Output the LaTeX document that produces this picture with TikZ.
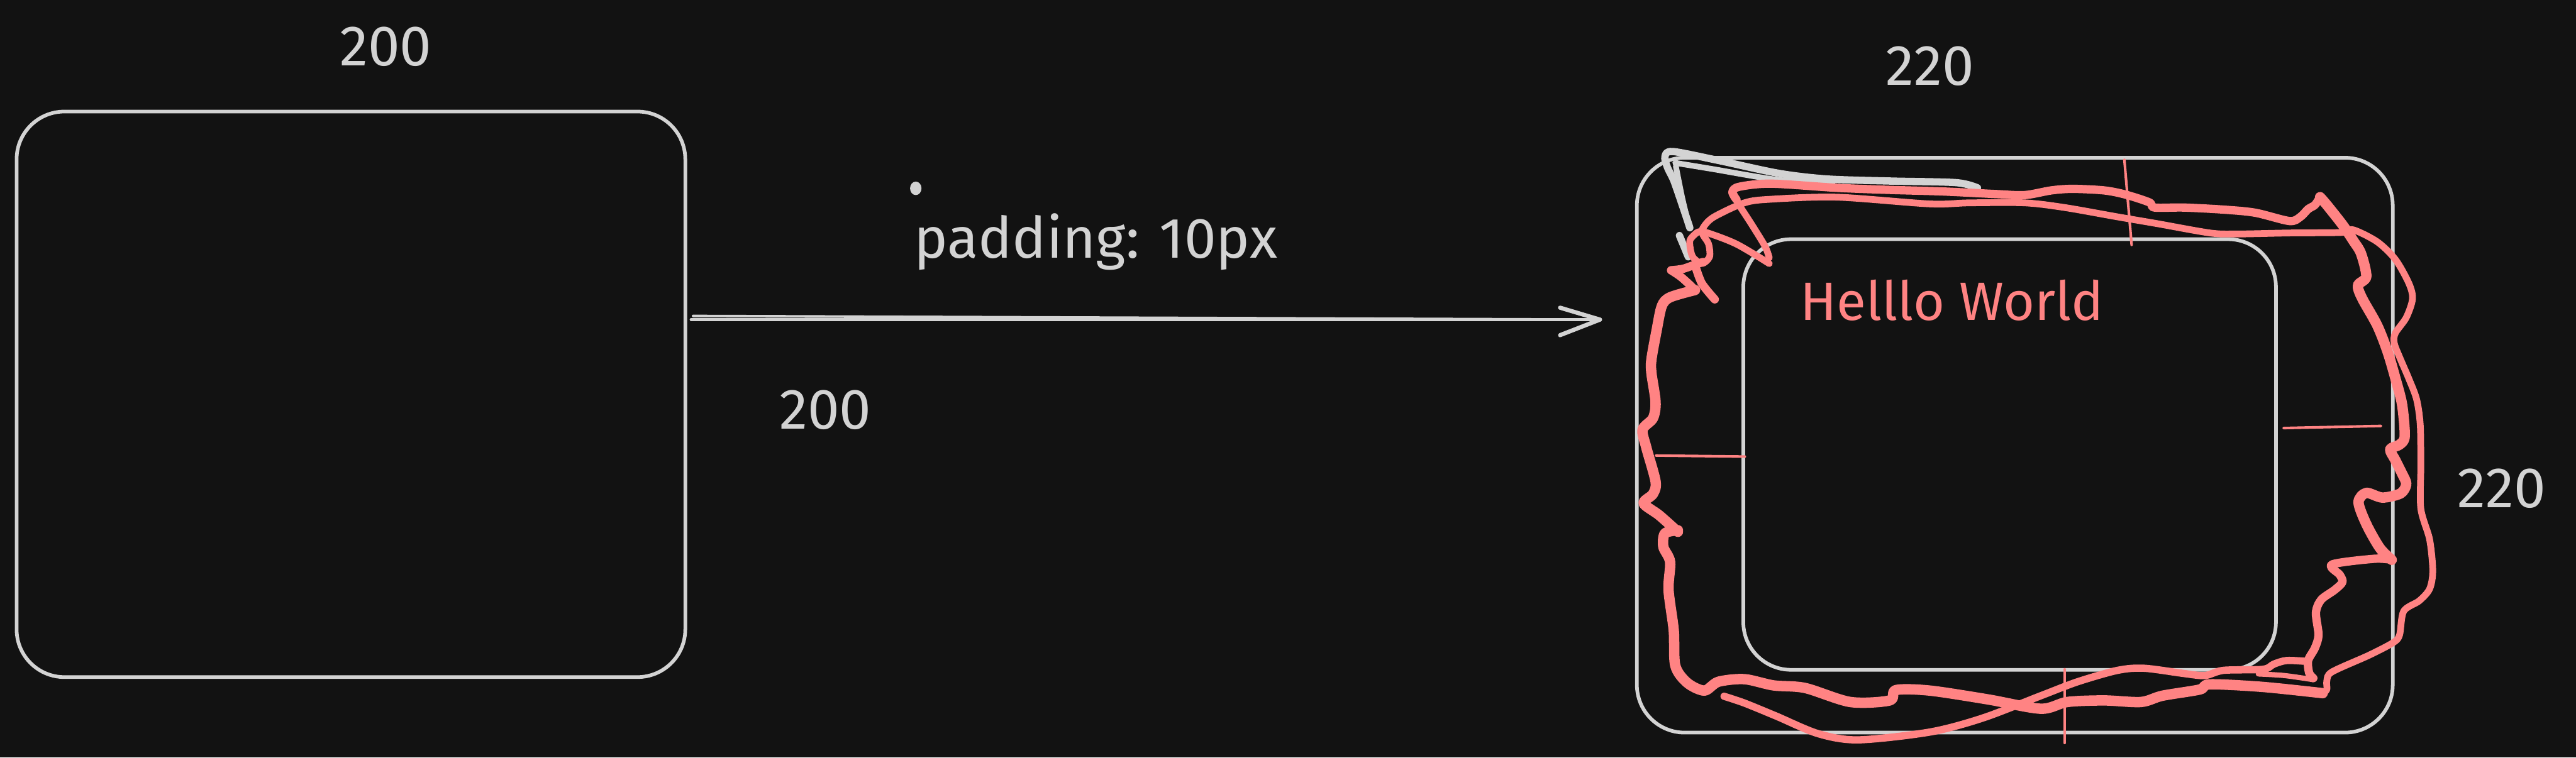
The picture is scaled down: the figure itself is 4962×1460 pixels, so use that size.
\documentclass[tikz,border=0pt]{standalone}
\usepackage{fontspec}
\setmainfont{Fira Sans}
\definecolor{bg}{HTML}{121212}
\definecolor{ink}{HTML}{D3D3D3}
\definecolor{pinkink}{HTML}{FF8383}
\begin{document}
\begin{tikzpicture}[x=1pt,y=-1pt,
  box/.style={draw=ink, line width=7pt, rounded corners=92pt, inner sep=0pt, outer sep=0pt},
  graylabel/.style={text=ink, font=\fontsize{110}{130}\selectfont, inner sep=0pt},
  pinklabel/.style={text=pinkink, font=\fontsize{104}{124}\selectfont, inner sep=0pt},
  scribble/.style={draw=pinkink, line width=16pt, line cap=round, line join=round},
  thickscribble/.style={scribble, line width=20pt},
  tick/.style={draw=pinkink, line width=5pt, line cap=round},
  grayscribble/.style={draw=ink, line width=14pt, line cap=round, line join=round},
  conn/.style={draw=ink, line width=5pt, line cap=round, line join=round},
  head/.style={draw=ink, line width=8pt, line cap=round, line join=round}]
\fill[bg] (0,0) rectangle (4962,1460);
\useasboundingbox (0,0) rectangle (4962,1460);

% left box
\node[box, minimum width=1288pt, minimum height=1090pt] (leftbox) at (676,760) {};
% right boxes
\node[box, minimum width=1456pt, minimum height=1108pt] (outerbox) at (3881,858) {};
\node[box, minimum width=1026pt, minimum height=830pt] (innerbox) at (3871,876) {};

% labels
\node[graylabel] (w1) at (743,90) {200};
\node[graylabel] (h1) at (1590,790) {200};
\node[graylabel] (w2) at (3718,127) {220};
\node[graylabel] (h2) at (4819,942) {220};
\node[graylabel, anchor=base west] (pad) at (1760,497) {padding: 10px};
\fill[ink] (1764,363) ellipse [x radius=11pt, y radius=13pt];

% arrow
\coordinate (a1) at (1335,609);
\coordinate (a1b) at (1331,616);
\coordinate (tip) at (3082,616);
\coordinate (barbA) at (3005,593);
\coordinate (barbB) at (3005,646);
\draw[conn] (a1) -- (tip);
\draw[conn] (a1b) -- (tip);
\draw[head] (barbA) -- (tip) -- (barbB);

% gray freehand at top-left of outer box
\draw[grayscribble] plot[smooth, tension=0.5] coordinates {(3809,362) (3768,352) (3645,349) (3520,345) (3426,334) (3309,309) (3222,292) (3207,302) (3212,323) (3224,348) (3240,394) (3255,439)};
\draw[grayscribble, line width=11pt] plot[smooth, tension=0.5] coordinates {(3227,314) (3300,326) (3420,346) (3530,354)};
\draw[grayscribble, line width=11pt] plot[smooth, tension=0.5] coordinates {(3228,320) (3240,380) (3252,430)};
\draw[grayscribble] (3235,454) -- (3252,495);

% pink scribble
\draw[scribble] plot[smooth, tension=0.5] coordinates {(3345,385) (3337,370) (3350,360) (3411,354) (3538,362) (3640,366) (3742,369) (3844,374) (3900,376) (3951,367) (3992,364) (4053,367) (4094,375) (4140,390) (4150,400) (4206,400) (4283,404) (4344,410) (4410,426) (4431,418) (4446,403) (4459,395) (4469,380)};
\draw[thickscribble] plot[smooth, tension=0.5] coordinates {(4469,380) (4482,395) (4512,433) (4533,464) (4548,489) (4558,533) (4542,550) (4550,575) (4579,627) (4599,678) (4614,729) (4627,780) (4632,841) (4622,857) (4604,866) (4614,887) (4627,913) (4635,933) (4624,951) (4589,959) (4558,950) (4543,968) (4558,1010) (4584,1056) (4607,1079)};
\draw[scribble] plot[smooth, tension=0.5] coordinates {(4607,1079) (4573,1077) (4492,1088) (4507,1108) (4512,1122) (4497,1137) (4471,1156) (4461,1181) (4466,1224) (4459,1249) (4446,1273) (4448,1297) (4456,1307)};
\draw[scribble, line width=13pt] plot[smooth, tension=0.5] coordinates {(3268,449) (3255,464) (3260,494) (3278,508) (3293,495) (3291,470) (3280,452) (3280,440) (3300,419) (3360,391) (3411,384) (3538,380) (3717,393) (3793,391) (3900,391) (3977,400) (4079,418) (4155,431) (4257,449) (4308,451) (4410,449) (4512,448) (4533,443) (4579,466) (4614,500) (4640,546) (4647,576) (4635,612) (4614,642) (4612,662) (4625,695) (4640,730) (4655,770) (4662,820) (4663,900) (4663,980) (4680,1040) (4686,1100) (4680,1135) (4660,1158) (4630,1178) (4622,1224) (4609,1239) (4563,1263) (4492,1295) (4482,1312) (4482,1329) (4474,1336)};
\draw[thickscribble] plot[smooth, tension=0.5] coordinates {(4474,1336) (4359,1324) (4257,1319) (4237,1329) (4165,1341) (4124,1353) (4053,1350) (3982,1353) (3931,1366) (3829,1348) (3717,1331) (3652,1330) (3640,1350) (3564,1353) (3477,1326) (3416,1321) (3360,1309) (3310,1314) (3283,1331) (3250,1316) (3227,1283) (3224,1215) (3214,1137) (3217,1083) (3204,1054) (3207,1028) (3232,1022)};
\draw[thickscribble] plot[smooth, tension=0.5] coordinates {(3232,1025) (3196,993) (3166,970) (3184,952) (3189,928) (3171,862) (3164,828) (3184,806) (3189,775) (3181,719) (3181,693) (3191,637) (3201,590) (3217,573) (3265,559)};
\draw[scribble] plot[smooth, tension=0.5] coordinates {(3265,559) (3255,549) (3237,533) (3219,521)};
\draw[scribble] plot[smooth, tension=0.5] coordinates {(3219,521) (3242,518) (3265,510) (3280,505)};
\draw[scribble] plot[smooth, tension=0.5] coordinates {(3265,511) (3278,546) (3303,577)};
\draw[scribble, line width=13pt] plot[smooth, tension=0.5] coordinates {(3349,394) (3375,434) (3400,475) (3408,497)};
\draw[scribble, line width=13pt] plot[smooth, tension=0.5] coordinates {(3408,508) (3344,470) (3283,447) (3268,449)};
\draw[scribble, line width=14pt] plot[smooth, tension=0.5] coordinates {(4446,1275) (4405,1273) (4380,1280) (4359,1290) (4283,1292) (4247,1302) (4206,1298) (4130,1288) (4079,1292) (4002,1314) (3931,1341) (3819,1384) (3717,1411) (3579,1426) (3502,1414) (3421,1380) (3360,1355) (3321,1342)};
\draw[scribble, line width=10pt] plot[smooth, tension=0.5] coordinates {(4456,1310) (4400,1302) (4350,1299)};

% pink tick marks
\draw[tick] (4092,308) -- (4106,472);
\draw[tick] (4399,825) -- (4586,821);
\draw[tick] (3190,878) -- (3361,880);
\draw[tick] (3977,1290) -- (3977,1432);

% pink text
\node[pinklabel, anchor=base west] (hello) at (3467,617) {Helllo World};
\end{tikzpicture}
\end{document}
